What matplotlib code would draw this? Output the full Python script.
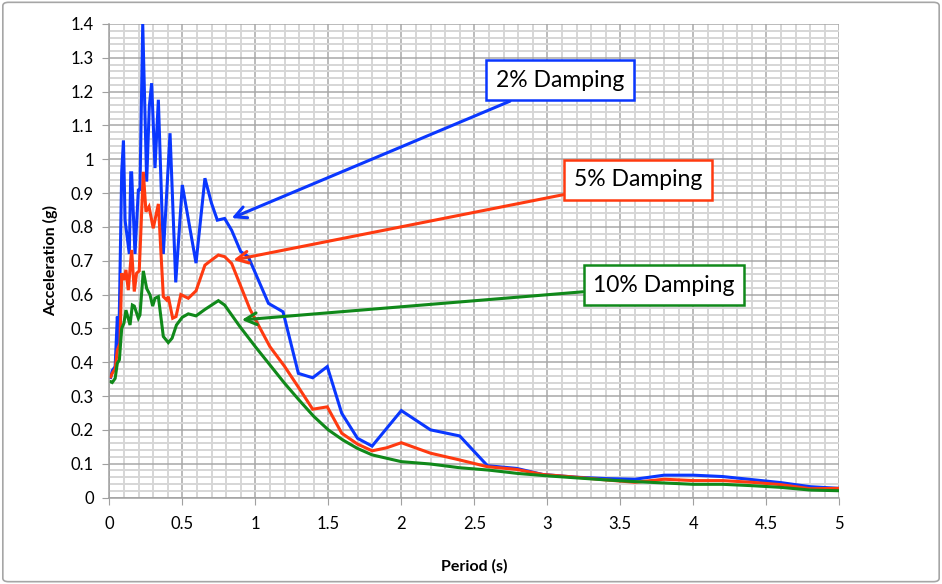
import numpy as np
import matplotlib
matplotlib.use("Agg")
import matplotlib.pyplot as plt
import matplotlib.patheffects as pe
from matplotlib.ticker import MultipleLocator, FuncFormatter
from matplotlib.patches import FancyBboxPatch

# period (s) and spectral acceleration (g)
period_2 = [0.01, 0.02, 0.04, 0.055, 0.065, 0.085, 0.097, 0.108, 0.137, 0.147, 0.153, 0.176,
            0.199, 0.21, 0.229, 0.256, 0.274, 0.29, 0.313, 0.336, 0.37, 0.416, 0.455, 0.50,
            0.594, 0.655, 0.70, 0.74, 0.79, 0.838, 0.90, 0.952, 1.09, 1.19, 1.295, 1.393,
            1.493, 1.592, 1.70, 1.80, 2.0, 2.2, 2.4, 2.59, 2.79, 2.97, 3.2, 3.4, 3.6, 3.8,
            4.0, 4.2, 4.4, 4.6, 4.8, 5.0]
accel_2 = [0.355, 0.375, 0.387, 0.535, 0.45, 0.964, 1.055, 0.82, 0.72, 0.96, 0.96, 0.72,
           0.909, 0.91, 1.40, 0.934, 1.156, 1.225, 0.974, 1.176, 0.72, 1.077, 0.636, 0.924,
           0.693, 0.944, 0.87, 0.82, 0.825, 0.79, 0.727, 0.712, 0.574, 0.549, 0.367, 0.354,
           0.387, 0.249, 0.175, 0.152, 0.257, 0.20, 0.182, 0.094, 0.086, 0.068, 0.06, 0.056,
           0.054, 0.066, 0.066, 0.062, 0.053, 0.044, 0.032, 0.027]

period_5 = [0.01, 0.02, 0.04, 0.055, 0.073, 0.085, 0.10, 0.114, 0.13, 0.153, 0.171, 0.187,
            0.205, 0.233, 0.251, 0.272, 0.301, 0.336, 0.37, 0.393, 0.404, 0.434, 0.457, 0.49,
            0.541, 0.594, 0.655, 0.70, 0.747, 0.79, 0.838, 0.964, 1.10, 1.2, 1.3, 1.393,
            1.493, 1.592, 1.70, 1.80, 1.90, 2.0, 2.2, 2.4, 2.59, 2.79, 2.97, 3.2, 3.4, 3.6,
            3.8, 4.0, 4.2, 4.4, 4.6, 4.8, 5.0]
accel_5 = [0.357, 0.367, 0.38, 0.436, 0.456, 0.663, 0.643, 0.673, 0.613, 0.732, 0.609, 0.663,
           0.67, 0.963, 0.845, 0.86, 0.796, 0.868, 0.594, 0.584, 0.594, 0.53, 0.535, 0.60,
           0.589, 0.611, 0.687, 0.702, 0.717, 0.712, 0.692, 0.556, 0.446, 0.388, 0.323, 0.261,
           0.268, 0.19, 0.158, 0.138, 0.147, 0.162, 0.131, 0.111, 0.091, 0.083, 0.068, 0.06,
           0.052, 0.045, 0.054, 0.05, 0.05, 0.045, 0.038, 0.026, 0.027]

period_10 = [0.01, 0.02, 0.04, 0.055, 0.069, 0.085, 0.10, 0.114, 0.142, 0.158, 0.171, 0.199,
             0.21, 0.233, 0.256, 0.279, 0.297, 0.313, 0.336, 0.37, 0.404, 0.43, 0.46, 0.50,
             0.541, 0.594, 0.655, 0.747, 0.79, 0.895, 1.0, 1.1, 1.2, 1.3, 1.4, 1.5, 1.6, 1.7,
             1.8, 2.0, 2.2, 2.4, 2.6, 2.8, 3.0, 3.2, 3.4, 3.6, 3.8, 4.0, 4.2, 4.4, 4.6, 4.8, 5.0]
accel_10 = [0.342, 0.34, 0.352, 0.397, 0.407, 0.50, 0.515, 0.554, 0.51, 0.569, 0.566, 0.53,
            0.54, 0.67, 0.618, 0.599, 0.566, 0.589, 0.594, 0.476, 0.458, 0.471, 0.51, 0.533,
            0.543, 0.537, 0.556, 0.582, 0.569, 0.505, 0.446, 0.392, 0.338, 0.288, 0.24, 0.20,
            0.17, 0.145, 0.126, 0.106, 0.099, 0.088, 0.081, 0.071, 0.064, 0.058, 0.052, 0.047,
            0.043, 0.039, 0.039, 0.035, 0.03, 0.022, 0.02]

labels = ["2% Damping", "5% Damping", "10% Damping"]
colors = ["#0A37FF", "#FF3A10", "#10891A"]
# arrow tip on the curve and box centre, in data units
arrow_tips = [(0.838, 0.826), (0.85, 0.702), (0.907, 0.525)]
box_centres = [(3.087, 1.234), (3.62, 0.939), (3.80, 0.628)]

plt.rcParams['font.family'] = ['Lato', 'DejaVu Sans']

fig = plt.figure(figsize=(9.42, 5.84), dpi=100)
ax = fig.add_axes([109.3 / 942, 1 - 497.5 / 584, 730 / 942, 473.5 / 584])

# outer chart border
fig.patches.append(FancyBboxPatch((0.003, 0.004), 0.994, 0.992, boxstyle="round,pad=0,rounding_size=0.006",
                                  transform=fig.transFigure, fill=False, edgecolor="#A6A6A6", linewidth=1.2))

series = [(period_2, accel_2), (period_5, accel_5), (period_10, accel_10)]
for (px, py), c in zip(series, colors):
    ax.plot(px, py, color=c, linewidth=2.2, solid_joinstyle="miter")

ax.set_xlim(0, 5)
ax.set_ylim(0, 1.4)
ax.xaxis.set_major_locator(MultipleLocator(0.5))
ax.xaxis.set_minor_locator(MultipleLocator(0.1))
ax.yaxis.set_major_locator(MultipleLocator(0.1))
ax.yaxis.set_minor_locator(MultipleLocator(0.02))
fmt = FuncFormatter(lambda v, pos: f"{v:.10g}")
ax.xaxis.set_major_formatter(fmt)
ax.yaxis.set_major_formatter(fmt)

ax.grid(which="minor", color="#D6D6D6", linewidth=1.4)
ax.grid(which="major", color="#A8A8A8", linewidth=1.1)
ax.set_axisbelow(True)

for s in ["top", "right"]:
    ax.spines[s].set_visible(False)
for s in ["left", "bottom"]:
    ax.spines[s].set_color("#A0A0A0")
    ax.spines[s].set_linewidth(1.1)
ax.tick_params(which="major", direction="out", length=5, color="#A0A0A0", labelsize=12,
               labelcolor="#000000")
ax.tick_params(axis="y", pad=6)
ax.tick_params(axis="x", pad=8)
ax.tick_params(which="minor", length=0)

ax.set_xlabel("Period (s)", fontsize=11.5, fontweight="bold", labelpad=20)
ax.set_ylabel("Acceleration (g)", fontsize=11.5, fontweight="bold", labelpad=9)

for lab, c, tip, ctr in zip(labels, colors, arrow_tips, box_centres):
    ann = ax.annotate(lab, xy=tip, xytext=ctr, fontsize=16.5, ha="center", va="center",
                      bbox=dict(boxstyle="square,pad=0.42", facecolor="white", edgecolor=c, linewidth=1.8),
                      arrowprops=dict(arrowstyle="->,head_length=0.75,head_width=0.38", color=c, linewidth=2.2,
                                      shrinkA=0, shrinkB=0, mutation_scale=11),
                      zorder=5)
    ann.arrow_patch.set_path_effects([pe.SimplePatchShadow(offset=(2, -2), alpha=0.18), pe.Normal()])

fig.savefig("out.png", dpi=100)
